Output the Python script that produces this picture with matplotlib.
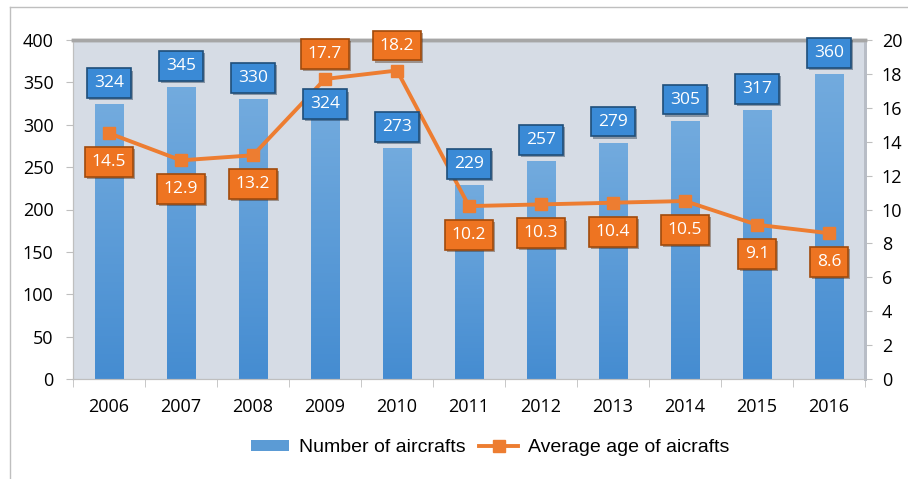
import numpy as np
import matplotlib
matplotlib.use("Agg")
from matplotlib import pyplot as plt
from matplotlib.lines import Line2D
from matplotlib.patches import Patch
import matplotlib.patheffects as pe

# Dati della flotta
anni = ["2006", "2007", "2008", "2009", "2010", "2011", "2012", "2013", "2014", "2015", "2016"]
numero_aerei = [324, 345, 330, 324, 273, 229, 257, 279, 305, 317, 360]
eta_media = [14.5, 12.9, 13.2, 17.7, 18.2, 10.2, 10.3, 10.4, 10.5, 9.1, 8.6]

BLU_TOP = np.array([0.45, 0.67, 0.87])
BLU_BOTTOM = np.array([0.27, 0.55, 0.82])
ARANCIO = "#ED7D31"
GRIGIO = "#A6A6A6"


def barre_sfumate(ax, x, valori, larghezza):
    barre = ax.bar(x, valori, width=larghezza, color="none", zorder=2)
    grad = np.linspace(0, 1, 256).reshape(-1, 1)
    colori = (BLU_BOTTOM[None, None, :] * (1 - grad[..., None])
              + BLU_TOP[None, None, :] * grad[..., None])
    for barra in barre:
        bx, by = barra.get_x(), barra.get_y()
        w, h = barra.get_width(), barra.get_height()
        img = ax.imshow(colori, extent=[bx, bx + w, by, by + h], origin="lower",
                        aspect="auto", zorder=2)
        img.set_clip_path(barra)
    return barre


def etichetta(ax, x, y, testo, dy, colore, bordo, z):
    ax.annotate(testo, (x, y), xytext=(0, dy), textcoords="offset pixels",
                ha="center", va="center", color="white", fontsize=12.5,
                family="Open Sans", zorder=z,
                bbox=dict(boxstyle="square,pad=0.4", fc=colore, ec=bordo, lw=1.2,
                          path_effects=[pe.SimplePatchShadow(offset=(1.5, -1.5), alpha=0.4),
                                        pe.Normal()]))


fig = plt.figure(figsize=(9.08, 4.79), dpi=100)
ax = fig.add_axes([73 / 908, 100 / 479, 792 / 908, 339 / 479])
ax.set_facecolor("#D6DCE5")
ax2 = ax.twinx()

x = np.arange(len(anni))
barre_sfumate(ax, x, numero_aerei, 0.4)
ax.set_xlim(-0.5, len(anni) - 0.5)
ax.set_ylim(0, 400)
ax.set_yticks(range(0, 401, 50))

ax2.plot(x, eta_media, color=ARANCIO, lw=2.8, marker="s", ms=8.5, zorder=3)
ax2.set_ylim(0, 20)
ax2.set_yticks(range(0, 21, 2))

# Etichette dei valori
for i, v in enumerate(numero_aerei):
    dy = 0 if anni[i] == "2009" else 21
    etichetta(ax2, i, v / 20, str(v), dy, "#3A8AD6", "#1F4E79", 5)
for i, v in enumerate(eta_media):
    dy = 25 if anni[i] in ("2009", "2010") else -29
    etichetta(ax2, i, v, f"{v:.1f}", dy, "#EE7421", "#A04A0C", 6)

# Assi e tick
ax.set_xticks(x)
ax.set_xticklabels(anni, family="Open Sans", fontsize=13)
ax.set_xticks(np.arange(-0.5, len(anni)), minor=True)
ax.tick_params(axis="x", which="major", length=0, pad=14)
ax.tick_params(axis="x", which="minor", length=6, color="#BFBFBF")
ax.tick_params(axis="y", length=5, color="#BFBFBF", labelsize=13, pad=9)
ax2.tick_params(axis="y", length=5, color="#BFBFBF", labelsize=13, pad=7)
for t in ax.get_yticklabels() + ax2.get_yticklabels():
    t.set_family("Open Sans")

for a in (ax, ax2):
    a.spines["left"].set_color("#BFBFBF")
    a.spines["bottom"].set_color("#BFBFBF")
    a.spines["top"].set_color(GRIGIO)
    a.spines["top"].set_linewidth(2.5)
    a.spines["right"].set_color("#B8BDC6")
    a.spines["right"].set_linewidth(2)

# Legenda
maniglie = [
    Patch(facecolor="#5B9BD5", edgecolor="none"),
    Line2D([0], [0], color=ARANCIO, lw=2.8, marker="s", ms=8.5),
]
fig.legend(maniglie, ["Number of aircrafts", "Average age of aicrafts"],
           loc="center", bbox_to_anchor=(490 / 908, 31 / 479), ncol=2, frameon=False,
           prop={"family": "Liberation Sans", "size": 14}, handlelength=2.0,
           handleheight=0.5, columnspacing=0.7, handletextpad=0.5)

# Cornice esterna
fig.add_artist(Line2D([10 / 908, 10 / 908], [0, 1 - 7 / 479], color="#BFBFBF", lw=1))
fig.add_artist(Line2D([10 / 908, 1], [1 - 7 / 479, 1 - 7 / 479], color="#BFBFBF", lw=1))

fig.savefig("out.png", dpi=100)
